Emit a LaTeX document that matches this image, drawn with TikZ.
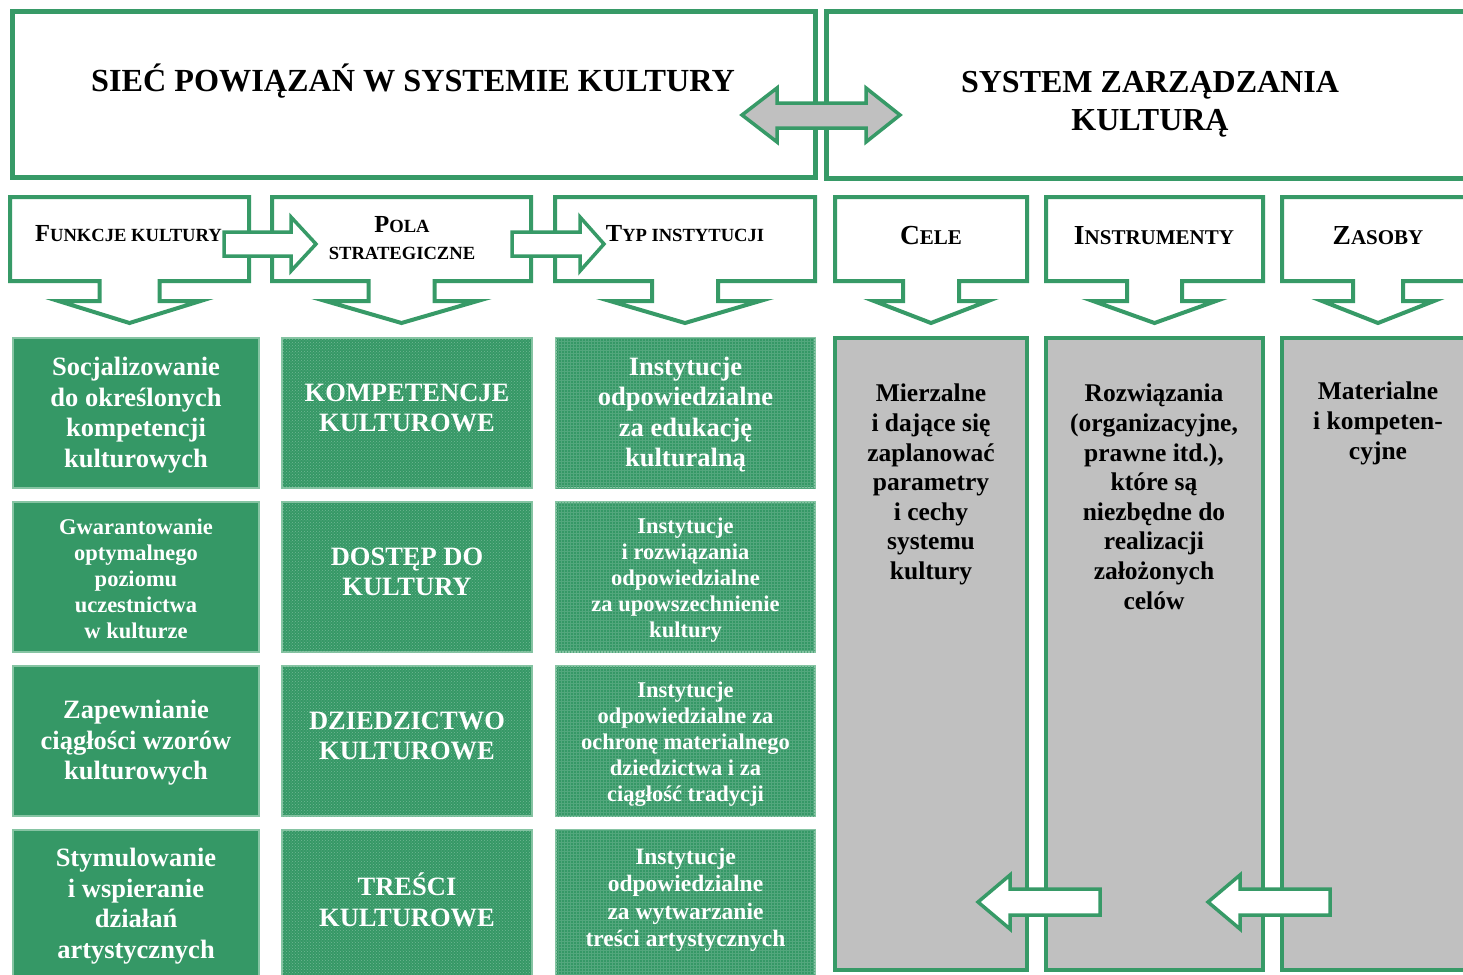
\documentclass[tikz,border=0pt]{standalone}
\usepackage{fontspec}
\setmainfont{Liberation Serif}
\usetikzlibrary{patterns}
\definecolor{gr}{HTML}{379A67}
\definecolor{cellg}{HTML}{359866}
\definecolor{cellb}{HTML}{86C4A3}
\definecolor{gy}{HTML}{C0C0C0}
\newcommand\fs[2]{\fontsize{#1}{#2}\selectfont}
\newcommand\SCx[4]{{\fontsize{#1}{#1}\selectfont #3}{\fontsize{#2}{#2}\selectfont #4}}
\tikzset{
  topbox/.style={draw=gr, line width=5pt, fill=white},
  callbox/.style={draw=gr, line width=4pt, fill=white, line join=miter},
  barrow/.style={draw=gr, line width=3.5pt, fill=white},
  dblarrow/.style={draw=gr, line width=3.5pt, fill=gy},
  cellbase/.style={rectangle, inner sep=0pt, outer sep=0pt, draw=cellb, line width=1.2pt, minimum height=150pt},
  cellA/.style={cellbase, fill=cellg, minimum width=246pt},
  cellB/.style={cellbase, fill=cellg, minimum width=250pt, postaction={pattern=crosshatch dots, pattern color=cellg!70!white}},
  cellC/.style={cellbase, fill=cellg, minimum width=259pt, postaction={pattern=grid, pattern color=cellg!85!white}},
  graycol/.style={draw=gr, line width=4pt, fill=gy},
  big/.style={font=\bfseries\fs{26.5}{30.5}},
  small/.style={font=\bfseries\fs{22.5}{26}},
  mid/.style={font=\bfseries\fs{23.5}{27.5}},
  gtxt/.style={font=\bfseries\fs{25.5}{29.6}},
  wtxt/.style={text=white, align=center, inner sep=0pt},
  btxt/.style={text=black, align=center, inner sep=0pt},
  htxt/.style={text=black, inner sep=0pt}
}
\newcommand\callout[5]{%
  \draw[callbox] (#1,-197) -- (#2,-197) -- (#2,-281) -- (#3+#4,-281) -- (#3+#4,-301) -- (#3+#5,-301) -- (#3,-323) -- (#3-#5,-301) -- (#3-#4,-301) -- (#3-#4,-281) -- (#1,-281) -- cycle;}
\begin{document}
\begin{tikzpicture}[x=1pt,y=1pt,font=\bfseries]
\useasboundingbox (0,0) rectangle (1463,-974);
\clip (0,0) rectangle (1463,-974);
\fill[white] (0,0) rectangle (1463,-974);

% ---------- top boxes ----------
\draw[topbox] (12,-12) rectangle (815,-177);
\draw[topbox] (826,-12) rectangle (1495,-178);
\draw[dblarrow] (742,-115) -- (777,-88) -- (777,-103) -- (866,-103) -- (866,-88) -- (900,-115) -- (866,-142) -- (866,-128) -- (777,-128) -- (777,-142) -- cycle;
\node[htxt, anchor=base, font=\bfseries\fs{32.2}{38}] (siec) at (413,-92) {SIEĆ POWIĄZAŃ W SYSTEMIE KULTURY};
\node[btxt, anchor=north, font=\bfseries\fs{32}{38}] (szk) at (1150,-71) {SYSTEM ZARZĄDZANIA\\KULTURĄ};

% ---------- callouts ----------
\callout{10}{249}{129.5}{30}{71}
\callout{272}{531}{401.5}{33}{76}
\callout{555}{815}{685}{33}{75}
\callout{835}{1027}{931}{28}{57}
\callout{1046}{1263}{1154.5}{27.5}{61.5}
\callout{1282}{1490}{1378}{25}{56}

\draw[barrow] (224,-232) -- (291,-232) -- (291,-217) -- (316,-244) -- (291,-271) -- (291,-256) -- (224,-256) -- cycle;
\draw[barrow] (512,-232) -- (580,-232) -- (580,-217) -- (604,-244) -- (580,-271) -- (580,-256) -- (512,-256) -- cycle;

\node[htxt, anchor=base] (fk) at (128.5,-241) {\SCx{24.5}{18.6}{F}{UNKCJE KULTURY}};
\node[htxt, anchor=base] (ps1) at (402,-232.5) {\SCx{24.5}{18.6}{P}{OLA}};
\node[htxt, anchor=base] (ps2) at (402,-259) {\SCx{18.6}{18.6}{}{STRATEGICZNE}};
\node[htxt, anchor=base] (ti) at (685,-241) {\SCx{24.5}{18.6}{T}{YP INSTYTUCJI}};
\node[htxt, anchor=base] (ce) at (931,-244) {\SCx{27.5}{21}{C}{ELE}};
\node[htxt, anchor=base] (in) at (1154,-244) {\SCx{27.5}{21}{I}{NSTRUMENTY}};
\node[htxt, anchor=base] (za) at (1378,-244) {\SCx{27.5}{21}{Z}{ASOBY}};

% ---------- cells ----------
\node[cellA] (a1) at (136,-413) {};
\node[cellA] (a2) at (136,-577) {};
\node[cellA] (a3) at (136,-741) {};
\node[cellA] (a4) at (136,-905) {};
\node[cellB] (b1) at (407,-413) {};
\node[cellB] (b2) at (407,-577) {};
\node[cellB] (b3) at (407,-741) {};
\node[cellB] (b4) at (407,-905) {};
\node[cellC] (c1) at (685.5,-413) {};
\node[cellC] (c2) at (685.5,-577) {};
\node[cellC] (c3) at (685.5,-741) {};
\node[cellC] (c4) at (685.5,-905) {};

\node[wtxt, big] (ta1) at ([yshift=-2pt]a1.center) {Socjalizowanie\\do określonych\\kompetencji\\kulturowych};
\node[wtxt, small] (ta2) at ([yshift=-2pt]a2.center) {Gwarantowanie\\optymalnego\\poziomu\\uczestnictwa\\w kulturze};
\node[wtxt, big] (ta3) at ([yshift=-2pt]a3.center) {Zapewnianie\\ciągłości wzorów\\kulturowych};
\node[wtxt, big] (ta4) at ([yshift=-1pt]a4.center) {Stymulowanie\\i wspieranie\\działań\\artystycznych};

\node[wtxt, big] (tb1) at ([yshift=5pt]b1.center) {KOMPETENCJE\\KULTUROWE};
\node[wtxt, big] (tb2) at ([yshift=5pt]b2.center) {DOSTĘP DO\\KULTURY};
\node[wtxt, big] (tb3) at ([yshift=5pt]b3.center) {DZIEDZICTWO\\KULTUROWE};
\node[wtxt, big] (tb4) at ([yshift=5pt]b4.center) {TREŚCI\\KULTUROWE};

\node[wtxt, big] (tc1) at ([yshift=-1.5pt]c1.center) {Instytucje\\odpowiedzialne\\za edukację\\kulturalną};
\node[wtxt, small] (tc2) at ([yshift=-3pt]c2.center) {Instytucje\\i rozwiązania\\odpowiedzialne\\za upowszechnienie\\kultury};
\node[wtxt, small] (tc3) at ([yshift=-3pt]c3.center) {Instytucje\\odpowiedzialne za\\ochronę materialnego\\dziedzictwa i za\\ciągłość tradycji};
\node[wtxt, mid] (tc4) at ([yshift=5pt]c4.center) {Instytucje\\odpowiedzialne\\za wytwarzanie\\treści artystycznych};

% ---------- gray columns ----------
\draw[graycol] (835,-338) rectangle (1027,-970);
\draw[graycol] (1046,-338) rectangle (1263,-970);
\draw[graycol] (1282,-338) rectangle (1495,-970);

\node[btxt, gtxt, anchor=north] (tg1) at (931,-384) {Mierzalne\\i dające się\\zaplanować\\parametry\\i cechy\\systemu\\kultury};
\node[btxt, gtxt, anchor=north] (tg2) at (1154,-384) {Rozwiązania\\(organizacyjne,\\prawne itd.),\\które są\\niezbędne do\\realizacji\\założonych\\celów};
\node[btxt, gtxt, anchor=north] (tg3) at (1378,-382) {Materialne\\i kompeten-\\cyjne};

\draw[barrow] (978,-902) -- (1010,-875) -- (1010,-889) -- (1100,-889) -- (1100,-915) -- (1010,-915) -- (1010,-929) -- cycle;
\draw[barrow] (1208,-902) -- (1240,-875) -- (1240,-889) -- (1330,-889) -- (1330,-915) -- (1240,-915) -- (1240,-929) -- cycle;
\end{tikzpicture}
\end{document}
